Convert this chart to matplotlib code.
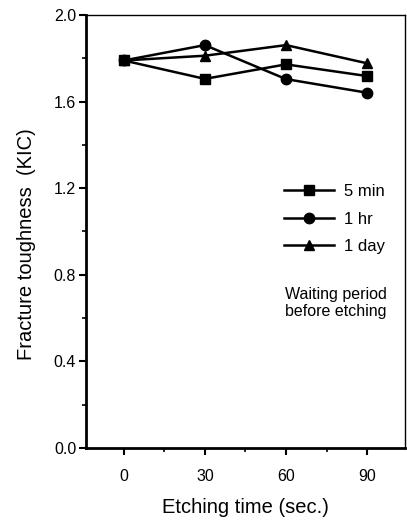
import matplotlib
matplotlib.use("Agg")
import matplotlib.pyplot as plt
from matplotlib.ticker import MultipleLocator
from matplotlib import font_manager

fams = {f.name for f in font_manager.fontManager.ttflist}
base = "Liberation Sans Narrow" if "Liberation Sans Narrow" in fams else "Liberation Sans"
plt.rcParams["font.family"] = [base, "DejaVu Sans"]

etch_time = [0, 30, 60, 90]
five_min = [1.79, 1.705, 1.772, 1.718]
one_hr = [1.79, 1.861, 1.704, 1.641]
one_day = [1.79, 1.812, 1.861, 1.777]
series_labels = ["5 min", "1 hr", "1 day"]

fig = plt.figure(figsize=(4.07, 5.27), dpi=100)
ax = fig.add_axes([0.211, 0.150, 0.784, 0.8215])

for ys, m, lab in zip([five_min, one_hr, one_day], ["s", "o", "^"], series_labels):
    ax.plot(etch_time, ys, color="black", lw=1.8, marker=m, ms=7.5, label=lab)

ax.set_xlim(-14, 104)
ax.set_ylim(0, 2.0)
ax.set_xticks(etch_time)
ax.xaxis.set_minor_locator(MultipleLocator(15))
ax.yaxis.set_major_locator(MultipleLocator(0.4))
ax.yaxis.set_minor_locator(MultipleLocator(0.2))
ax.set_yticklabels([f"{v:.1f}" for v in ax.get_yticks()])

ax.tick_params(which="major", direction="out", length=5, width=1.5, labelsize=11.5, colors="black")
ax.tick_params(which="minor", direction="out", length=3, width=1.2)
ax.tick_params(axis="x", pad=10)
ax.tick_params(axis="y", pad=2)

for s in ["left", "bottom"]:
    ax.spines[s].set_linewidth(2.0)
for s in ["top", "right"]:
    ax.spines[s].set_linewidth(1.0)

ax.set_xlabel("Etching time (sec.)", fontsize=14.5, labelpad=10)
ax.set_ylabel("Fracture toughness  (KIC)", fontsize=14.5)
ax.yaxis.set_label_coords(-0.155, 0.47)

leg = ax.legend(loc="upper left", bbox_to_anchor=(0.6, 0.625), frameon=False,
                handlelength=3.0, fontsize=12, labelspacing=0.75, handletextpad=0.6,
                borderaxespad=0)
ax.text(0.625, 0.335, "Waiting period\nbefore etching", transform=ax.transAxes,
        fontsize=11.5, va="center", ha="left", linespacing=1.15)

fig.savefig("out.png", dpi=100)
